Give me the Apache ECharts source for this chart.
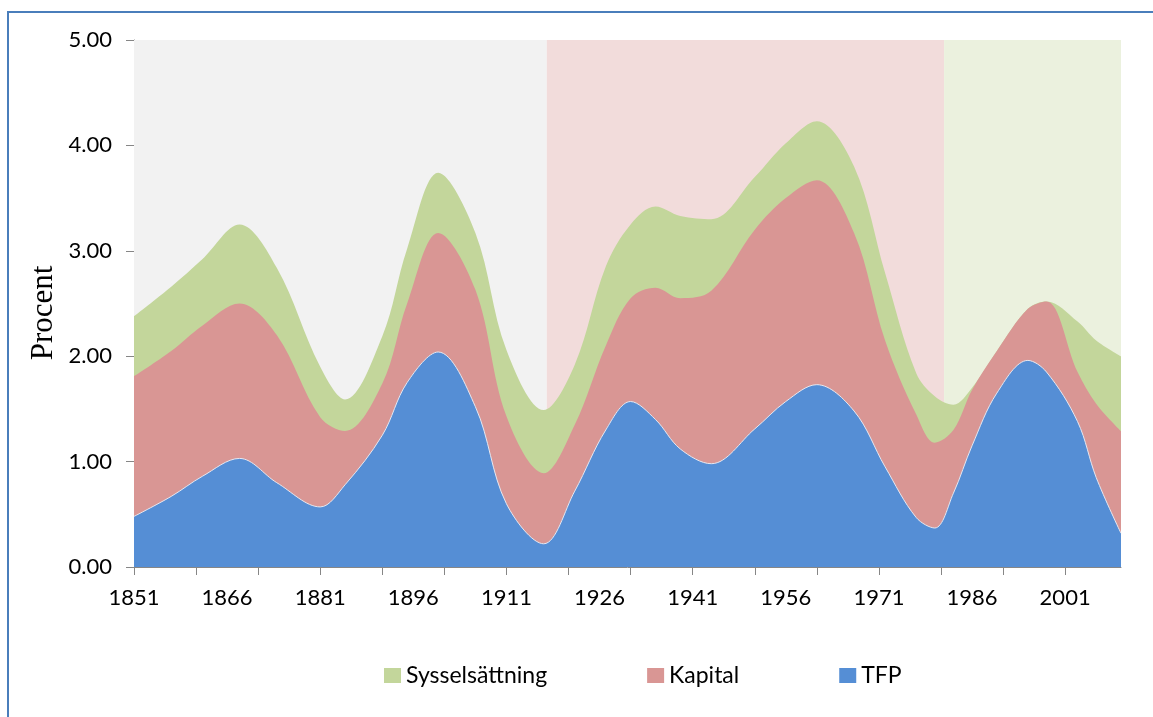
<!DOCTYPE html>
<html>
<head>
<meta charset="utf-8">
<title>Procent</title>
<script src="https://cdn.jsdelivr.net/npm/echarts@6/dist/echarts.min.js"></script>
<style>
  html, body { margin: 0; padding: 0; background: #fff; }
  #chart { width: 1153px; height: 717px; }
</style>
</head>
<body>
<div id="chart"></div>
<script>
// years of the data points
const years = [1851, 1857, 1862, 1868, 1874, 1881, 1885, 1891, 1895, 1900, 1906, 1911, 1917,
  1922, 1927, 1931, 1935, 1939, 1944, 1951, 1956, 1961, 1967, 1972, 1977, 1980,
  1983, 1986, 1990, 1995, 1998, 2003, 2006, 2010];

// contribution of each factor (percent)
const tfp = [0.48, 0.67, 0.86, 1.03, 0.80, 0.57, 0.78, 1.25, 1.75, 2.04, 1.52, 0.60, 0.22,
  0.72, 1.30, 1.57, 1.40, 1.12, 0.98, 1.31, 1.57, 1.73, 1.48, 0.95, 0.47, 0.37,
  0.70, 1.15, 1.65, 1.96, 1.85, 1.38, 0.85, 0.32];
const kapital = [1.33, 1.38, 1.43, 1.47, 1.40, 0.85, 0.51, 0.49, 0.75, 1.13, 1.11, 0.83, 0.67,
  0.63, 0.80, 0.98, 1.25, 1.43, 1.64, 1.89, 1.93, 1.94, 1.69, 1.20, 0.98, 0.81,
  0.60, 0.53, 0.40, 0.49, 0.67, 0.47, 0.70, 0.97];
const sysselsattning = [0.57, 0.61, 0.63, 0.75, 0.64, 0.48, 0.30, 0.45, 0.52, 0.57, 0.54, 0.63, 0.60,
  0.57, 0.75, 0.70, 0.77, 0.78, 0.68, 0.50, 0.52, 0.56, 0.63, 0.64, 0.39, 0.44,
  0.24, 0.02, 0.00, 0.00, 0.00, 0.48, 0.60, 0.71];

// shaded periods
const periodEdges = [1851, 1917.5, 1981.5, 2010];
const periodColors = ['#f2f2f2', '#f2dcdb', '#ebf1de'];

// axis ticks and labels
const xTickYears = [1851, 1861, 1871, 1881, 1891, 1901, 1911, 1921, 1931, 1941, 1951, 1961, 1971, 1981, 1991, 2001];
const xLabelYears = [1851, 1866, 1881, 1896, 1911, 1926, 1941, 1956, 1971, 1986, 2001];

const chart = echarts.init(document.getElementById('chart'));

// echarts stacks the x dimension on a value/value grid, so the stack is summed here
// and the layers are drawn back to front
function stacked(layers) {
  return years.map((y, i) => [y, layers.reduce((sum, arr) => sum + arr[i], 0)]);
}

const bands = [];
for (let i = 0; i < periodColors.length; i++) {
  bands.push([
    { xAxis: periodEdges[i], itemStyle: { color: periodColors[i] } },
    { xAxis: periodEdges[i + 1] }
  ]);
}

const labelFont = { fontFamily: 'Lato', fontSize: 22, color: '#000' };

function areaSeries(name, data, color, line) {
  return {
    name: name,
    type: 'line',
    smooth: 0.35,
    symbol: 'none',
    z: 5,
    data: data,
    itemStyle: { color: color },
    lineStyle: line || { width: 0 },
    areaStyle: { color: color, opacity: 1 }
  };
}

const option = {
  animation: false,
  grid: { left: 134, right: 32, top: 40, bottom: 150 },
  legend: {
    data: ['Sysselsättning', 'Kapital', 'TFP'],
    left: 384,
    top: 664,
    padding: 0,
    icon: 'rect',
    itemWidth: 17,
    itemHeight: 15,
    itemGap: 100,
    textStyle: { fontFamily: 'Lato', fontSize: 23, color: '#000' }
  },
  xAxis: {
    type: 'value',
    min: 1851,
    max: 2010,
    splitLine: { show: false },
    axisLine: { lineStyle: { color: '#868686', width: 1 } },
    axisTick: { show: true, length: 8, customValues: xTickYears, lineStyle: { color: '#868686' } },
    axisLabel: Object.assign({ margin: 20, customValues: xLabelYears, formatter: v => String(v) }, labelFont)
  },
  yAxis: {
    type: 'value',
    min: 0,
    max: 5,
    interval: 1,
    splitLine: { show: false },
    axisLine: { show: true, lineStyle: { color: '#868686', width: 1 } },
    axisTick: { show: true, length: 8, lineStyle: { color: '#868686' } },
    axisLabel: Object.assign({ margin: 22, formatter: v => v.toFixed(2) }, labelFont)
  },
  graphic: [
    {
      type: 'rect',
      shape: { x: 8, y: 12, width: 1300, height: 900 },
      style: { fill: 'none', stroke: '#4a7ebb', lineWidth: 2 },
      silent: true
    },
    {
      type: 'text',
      x: 44,
      y: 313,
      rotation: Math.PI / 2,
      style: {
        text: 'Procent',
        font: '31px "Liberation Serif"',
        fill: '#000',
        align: 'center',
        verticalAlign: 'middle'
      }
    }
  ],
  series: [
    {
      name: 'periods',
      type: 'line',
      data: [],
      z: 1,
      silent: true,
      markArea: { silent: true, z: 1, data: bands }
    },
    areaSeries('Sysselsättning', stacked([tfp, kapital, sysselsattning]), '#c3d69b'),
    areaSeries('Kapital', stacked([tfp, kapital]), '#d99694'),
    areaSeries('TFP', stacked([tfp]), '#558ed5', { color: '#e4e8f2', width: 1 })
  ]
};

chart.setOption(option);
</script>
</body>
</html>
